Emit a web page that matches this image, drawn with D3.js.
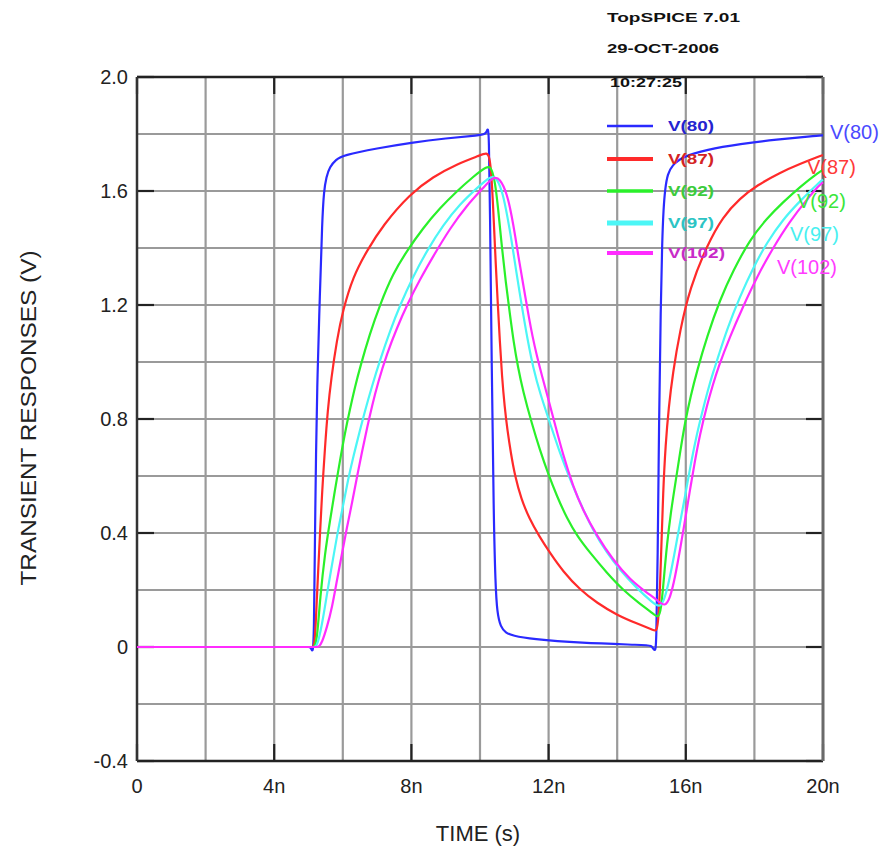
<!DOCTYPE html>
<html>
<head>
<meta charset="utf-8">
<script src="https://cdn.jsdelivr.net/npm/d3@7"></script>
<style>
  html, body { margin: 0; padding: 0; background: #fff; }
  svg { display: block; }
  text { font-family: Arial, "Liberation Sans", sans-serif; }
</style>
</head>
<body>
<svg id="chart" width="886" height="846"></svg>
<script>
// ---------------- DATA ----------------
const xTicks = [0, 4, 8, 12, 16, 20];           // ns
const xTickLabels = ["0", "4n", "8n", "12n", "16n", "20n"];
const yTicks = [-0.4, 0, 0.4, 0.8, 1.2, 1.6, 2.0];
const yTickLabels = ["-0.4", "0", "0.4", "0.8", "1.2", "1.6", "2.0"];
const xGrid = [2, 4, 6, 8, 10, 12, 14, 16, 18];
const yGrid = [-0.2, 0, 0.2, 0.4, 0.6, 0.8, 1.0, 1.2, 1.4, 1.6, 1.8];

const seriesNames = ["V(80)", "V(87)", "V(92)", "V(97)", "V(102)"];
const headerLines = ["TopSPICE 7.01", "29-OCT-2006", "10:27:25"];

// [time (ns), voltage (V)]
const v80 = [[0,0],[0.1,0],[4.9,0],[5.0,0],[5.05,0],[5.1,-0.012],[5.13,-0.015],[5.16,0.05],[5.18,0.3],[5.22,0.7],[5.26,0.95],[5.33,1.23],[5.4,1.5],[5.45,1.6],[5.52,1.65],[5.62,1.685],[5.8,1.71],[6.0,1.725],[7.0,1.75],[8.0,1.77],[9.0,1.785],[10.0,1.795],[10.15,1.80],[10.2,1.81],[10.23,1.82],[10.26,1.80],[10.29,1.55],[10.34,1.0],[10.4,0.45],[10.45,0.22],[10.5,0.12],[10.6,0.07],[10.75,0.05],[10.95,0.04],[11.5,0.028],[12.9,0.014],[14.8,0.007],[15.0,0.005],[15.06,-0.008],[15.1,-0.012],[15.14,-0.005],[15.18,0.3],[15.22,0.8],[15.27,1.2],[15.31,1.42],[15.35,1.54],[15.4,1.61],[15.47,1.66],[15.6,1.69],[15.9,1.72],[16.6,1.745],[17.6,1.765],[18.6,1.78],[19.9,1.795],[20,1.795]];
const v87 = [[0,0],[0.1,0],[5.0,0],[5.1,0],[5.14,0],[5.19,0.02],[5.25,0.19],[5.34,0.41],[5.4,0.55],[5.48,0.70],[5.56,0.83],[5.66,0.94],[5.83,1.08],[6.0,1.18],[6.3,1.30],[6.7,1.39],[7.17,1.48],[7.96,1.59],[8.63,1.65],[9.33,1.695],[10.0,1.725],[10.2,1.735],[10.28,1.72],[10.34,1.65],[10.4,1.5],[10.46,1.34],[10.52,1.2],[10.58,1.07],[10.64,0.95],[10.72,0.84],[10.8,0.76],[10.9,0.68],[11.02,0.6],[11.2,0.52],[11.44,0.45],[11.72,0.39],[12.04,0.33],[12.42,0.265],[12.92,0.2],[13.41,0.155],[13.99,0.112],[14.58,0.082],[15.08,0.058],[15.16,0.055],[15.22,0.12],[15.28,0.32],[15.34,0.55],[15.41,0.71],[15.5,0.84],[15.62,0.96],[15.83,1.11],[16.12,1.26],[16.62,1.41],[17.08,1.51],[17.58,1.575],[18.08,1.62],[18.75,1.665],[19.33,1.695],[19.9,1.722],[20,1.726]];
const v92 = [[0,0],[0.1,0],[5.05,0],[5.12,0],[5.17,0],[5.25,0.025],[5.34,0.175],[5.48,0.33],[5.63,0.446],[5.77,0.55],[5.92,0.656],[6.06,0.75],[6.21,0.835],[6.36,0.915],[6.5,0.98],[6.79,1.10],[7.08,1.20],[7.46,1.31],[7.87,1.39],[8.34,1.47],[8.83,1.54],[9.33,1.60],[9.8,1.65],[10.22,1.69],[10.34,1.68],[10.44,1.63],[10.52,1.55],[10.64,1.40],[10.75,1.28],[10.87,1.17],[10.98,1.07],[11.11,0.98],[11.25,0.9],[11.52,0.78],[11.75,0.69],[11.98,0.61],[12.24,0.53],[12.54,0.45],[12.83,0.39],[13.21,0.33],[13.7,0.26],[14.17,0.2],[14.66,0.152],[15.04,0.118],[15.2,0.10],[15.28,0.13],[15.36,0.24],[15.45,0.36],[15.56,0.47],[15.69,0.57],[15.83,0.68],[15.98,0.79],[16.14,0.88],[16.33,0.97],[16.62,1.09],[17.0,1.22],[17.38,1.32],[17.87,1.43],[18.37,1.505],[18.83,1.56],[19.33,1.615],[19.9,1.668],[20,1.674]];
const v97 = [[0,0],[0.1,0],[5.05,0],[5.15,0],[5.2,0],[5.28,0.014],[5.42,0.095],[5.57,0.21],[5.71,0.305],[5.86,0.41],[6.0,0.49],[6.15,0.586],[6.3,0.665],[6.5,0.76],[6.65,0.83],[6.85,0.915],[7.08,1.005],[7.38,1.11],[7.67,1.2],[8.05,1.30],[8.45,1.39],[8.92,1.48],[9.42,1.555],[9.91,1.61],[10.32,1.655],[10.5,1.645],[10.67,1.59],[10.8,1.51],[10.93,1.42],[11.04,1.33],[11.16,1.24],[11.27,1.16],[11.4,1.07],[11.55,0.98],[11.75,0.89],[12.04,0.786],[12.33,0.68],[12.62,0.59],[12.92,0.505],[13.29,0.41],[13.7,0.33],[14.08,0.27],[14.58,0.205],[15.04,0.155],[15.25,0.137],[15.39,0.17],[15.54,0.246],[15.69,0.34],[15.83,0.435],[15.98,0.53],[16.12,0.625],[16.29,0.73],[16.47,0.82],[16.64,0.9],[16.8,0.965],[16.95,1.02],[17.2,1.115],[17.58,1.23],[17.96,1.33],[18.37,1.42],[18.83,1.50],[19.33,1.565],[19.9,1.632],[20,1.64]];
const v102 = [[0,0],[0.1,0],[5.1,0],[5.22,0],[5.3,0],[5.39,0.014],[5.54,0.07],[5.69,0.14],[5.83,0.235],[5.98,0.33],[6.12,0.42],[6.27,0.505],[6.41,0.595],[6.56,0.685],[6.71,0.77],[6.85,0.845],[7.03,0.93],[7.29,1.03],[7.58,1.12],[7.87,1.20],[8.25,1.29],[8.63,1.37],[9.13,1.47],[9.62,1.55],[10.09,1.61],[10.38,1.65],[10.58,1.645],[10.79,1.59],[10.93,1.51],[11.03,1.44],[11.12,1.37],[11.22,1.30],[11.32,1.23],[11.42,1.16],[11.53,1.09],[11.66,1.02],[11.81,0.95],[11.98,0.875],[12.19,0.78],[12.42,0.675],[12.71,0.565],[13.0,0.48],[13.41,0.39],[13.88,0.305],[14.37,0.237],[14.87,0.19],[15.16,0.165],[15.39,0.14],[15.54,0.17],[15.69,0.246],[15.83,0.34],[15.98,0.446],[16.12,0.55],[16.27,0.656],[16.41,0.745],[16.62,0.85],[16.79,0.92],[16.94,0.98],[17.29,1.09],[17.67,1.195],[18.08,1.30],[18.54,1.40],[19.04,1.495],[19.53,1.57],[19.9,1.622],[20,1.63]];

const seriesData = [v80, v87, v92, v97, v102];

// ---------------- STYLE ----------------
const lineColors = ["#2a2aff", "#ff2a2a", "#2af02a", "#4cf6f6", "#ff2cff"];
const legendTextColors = ["#2424d0", "#d42424", "#3ccc3c", "#2cc4c4", "#c82cc8"];
const endLabelColors = ["#4a4aff", "#ff3a3a", "#3ae63a", "#48f0f0", "#ff3cff"];
const legendWidths = [2.5, 4, 3.5, 5, 4];
const endLabelPos = [[830, 134], [807, 169], [797, 203], [790, 236], [777, 269]];
const legendY = [126, 159, 191, 223, 253];
const legendLabelLen = [46, 46, 46, 46, 57];

const svg = d3.select("#chart");
const W = 886, H = 846;
const m = {left: 137, right: 823, top: 77, bottom: 761};

svg.append("rect").attr("width", W).attr("height", H).attr("fill", "#fff");

const x = d3.scaleLinear().domain([0, 20]).range([m.left, m.right]);
const y = d3.scaleLinear().domain([-0.4, 2.0]).range([m.bottom, m.top]);

// grid
const grid = svg.append("g");
grid.selectAll("line.v").data(xGrid).join("line")
  .attr("x1", d => x(d)).attr("x2", d => x(d))
  .attr("y1", m.top).attr("y2", m.bottom)
  .attr("stroke", "#9a9a9a").attr("stroke-width", 2.2);
grid.selectAll("line.h").data(yGrid).join("line")
  .attr("x1", m.left).attr("x2", m.right)
  .attr("y1", d => y(d)).attr("y2", d => y(d))
  .attr("stroke", "#9a9a9a").attr("stroke-width", 2.2);

// inward ticks at major positions
const tk = svg.append("g").attr("stroke", "#222").attr("stroke-width", 2.2);
xTicks.forEach(t => {
  tk.append("line").attr("x1", x(t)).attr("x2", x(t)).attr("y1", m.bottom).attr("y2", m.bottom - 17);
  tk.append("line").attr("x1", x(t)).attr("x2", x(t)).attr("y1", m.top).attr("y2", m.top + 17);
});
yTicks.forEach(v => {
  tk.append("line").attr("x1", m.right).attr("x2", m.right - 17).attr("y1", y(v)).attr("y2", y(v));
  tk.append("line").attr("x1", m.left).attr("x2", m.left + 17).attr("y1", y(v)).attr("y2", y(v));
});

// frame
svg.append("line").attr("x1", m.left).attr("x2", m.right).attr("y1", m.top).attr("y2", m.top).attr("stroke", "#222").attr("stroke-width", 2.5);
svg.append("line").attr("x1", m.left).attr("x2", m.right).attr("y1", m.bottom).attr("y2", m.bottom).attr("stroke", "#222").attr("stroke-width", 2.5);
svg.append("line").attr("x1", m.left).attr("x2", m.left).attr("y1", m.top).attr("y2", m.bottom).attr("stroke", "#333").attr("stroke-width", 2.5);
svg.append("line").attr("x1", m.right).attr("x2", m.right).attr("y1", m.top).attr("y2", m.bottom).attr("stroke", "#6a6a6a").attr("stroke-width", 3);

// tick labels
svg.append("g").selectAll("text").data(xTicks).join("text")
  .attr("x", d => x(d)).attr("y", 793)
  .attr("text-anchor", "middle").attr("font-size", 20).attr("fill", "#222")
  .text((d, i) => xTickLabels[i]);
svg.append("g").selectAll("text").data(yTicks).join("text")
  .attr("x", 128).attr("y", d => y(d) + 7)
  .attr("text-anchor", "end").attr("font-size", 20).attr("fill", "#222")
  .text((d, i) => yTickLabels[i]);

// axis titles
svg.append("text").attr("x", 478).attr("y", 841).attr("text-anchor", "middle")
  .attr("font-size", 22).attr("fill", "#222").text("TIME  (s)");
svg.append("text").attr("transform", "translate(36,418) rotate(-90)")
  .attr("text-anchor", "middle").attr("font-size", 22).attr("fill", "#222")
  .attr("textLength", 335).attr("lengthAdjust", "spacingAndGlyphs")
  .text("TRANSIENT RESPONSES  (V)");

// curves
const line = d3.line().x(d => x(d[0])).y(d => y(d[1])).curve(d3.curveBasis);
const curves = svg.append("g");
seriesData.forEach((s, i) => {
  curves.append("path").datum(s)
    .attr("d", line).attr("fill", "none")
    .attr("stroke", lineColors[i]).attr("stroke-width", 2.2)
    .attr("stroke-linejoin", "round");
});

// end labels
seriesNames.forEach((n, i) => {
  svg.append("text").attr("x", endLabelPos[i][0]).attr("y", endLabelPos[i][1])
    .attr("dominant-baseline", "middle").attr("font-size", 20)
    .attr("fill", endLabelColors[i]).text(n);
});

// legend
seriesNames.forEach((n, i) => {
  svg.append("line").attr("x1", 607).attr("x2", 653)
    .attr("y1", legendY[i]).attr("y2", legendY[i])
    .attr("stroke", lineColors[i]).attr("stroke-width", legendWidths[i]);
  svg.append("text").attr("x", 668).attr("y", legendY[i] + 1)
    .attr("dominant-baseline", "middle").attr("font-size", 14).attr("font-weight", "bold")
    .attr("fill", legendTextColors[i])
    .attr("textLength", legendLabelLen[i]).attr("lengthAdjust", "spacingAndGlyphs")
    .text(n);
});

// header
const hdr = [[607, 19, 133], [607, 50, 112], [610, 84, 72]];
headerLines.forEach((t, i) => {
  svg.append("text").attr("x", hdr[i][0]).attr("y", hdr[i][1])
    .attr("dominant-baseline", "middle").attr("font-size", 13).attr("font-weight", "bold")
    .attr("fill", "#111")
    .attr("textLength", hdr[i][2]).attr("lengthAdjust", "spacingAndGlyphs")
    .text(t);
});
</script>
</body>
</html>
